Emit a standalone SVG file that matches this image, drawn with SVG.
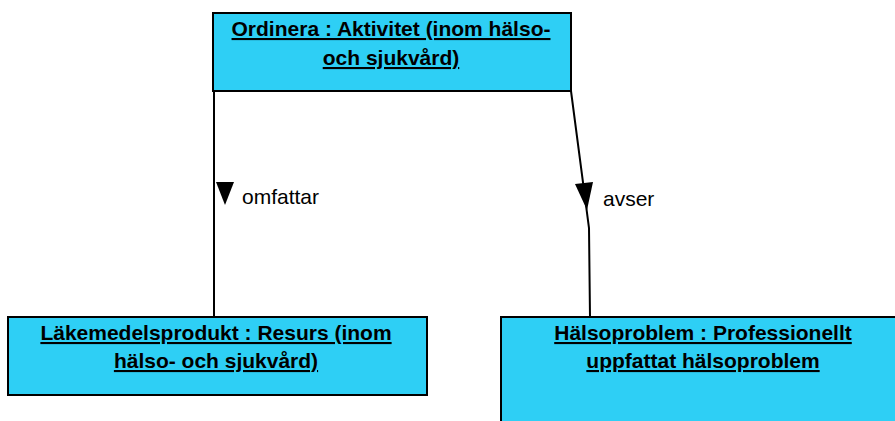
<svg xmlns="http://www.w3.org/2000/svg" width="895" height="421" viewBox="0 0 895 421">
<style>
.box{fill:#2ECFF5;stroke:#000;stroke-width:2}
.t{font-family:"Liberation Sans",Arial,sans-serif;font-size:21px;font-weight:bold;text-decoration:underline;text-anchor:middle;fill:#000}
.lbl{font-family:"Liberation Sans",Arial,sans-serif;font-size:21px;fill:#000}
.ln{fill:none;stroke:#000;stroke-width:2}
</style>
<rect width="895" height="421" fill="#fff"/>
<g id="connectors">
<path class="ln" d="M214,91 L214,317"/>
<path class="ln" d="M571,91 L589,228 L590,317"/>
<polygon points="216,182 234,182 225,205" fill="#000"/>
<polygon points="575,184 593,182 587,210" fill="#000"/>
<text class="lbl" x="242" y="204">omfattar</text>
<text class="lbl" x="603" y="206">avser</text>
</g>
<g id="ordinera">
<rect class="box" x="213" y="13" width="358" height="78"/>
<text class="t" x="391" y="36">Ordinera : Aktivitet (inom hälso-</text>
<text class="t" x="391" y="65">och sjukvård)</text>
</g>
<g id="lakemedelsprodukt">
<rect class="box" x="8" y="317" width="419" height="78"/>
<text class="t" x="216" y="340">Läkemedelsprodukt : Resurs (inom</text>
<text class="t" x="216" y="368">hälso- och sjukvård)</text>
</g>
<g id="halsoproblem">
<rect class="box" x="501" y="317" width="400" height="110"/>
<text class="t" x="703" y="340">Hälsoproblem : Professionellt</text>
<text class="t" x="703" y="368">uppfattat hälsoproblem </text>
</g>
</svg>
